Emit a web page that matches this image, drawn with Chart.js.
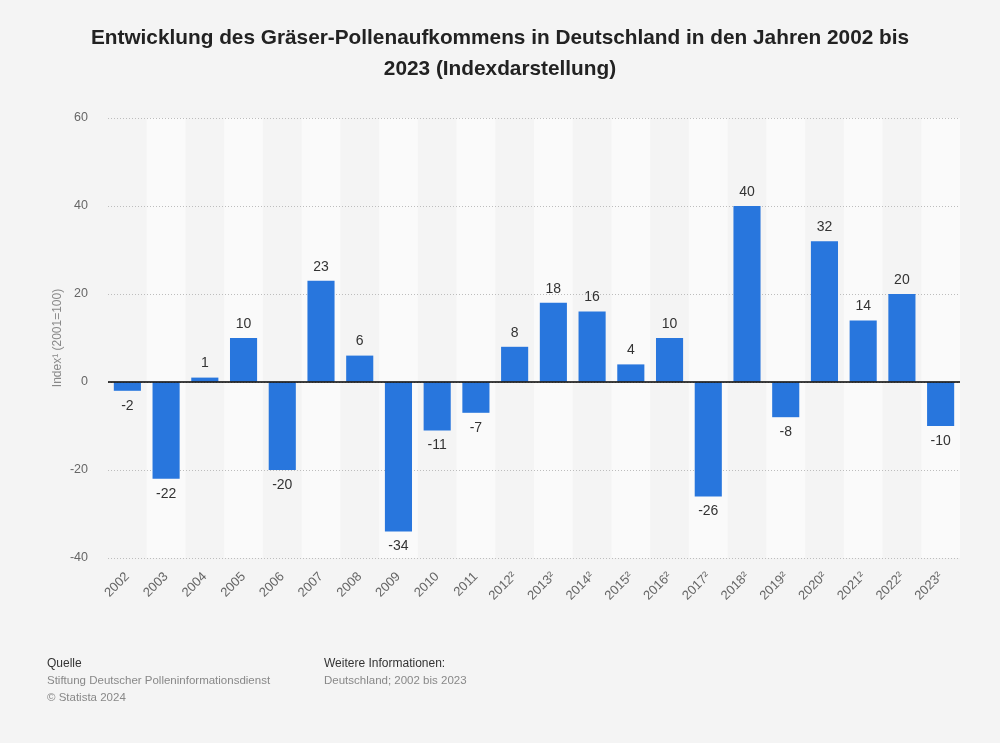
<!DOCTYPE html>
<html lang="de">
<head>
<meta charset="UTF-8">
<title>Gräser-Pollenaufkommen</title>
<script src="https://cdn.jsdelivr.net/npm/chart.js"></script>
<style>
  body { margin: 0; background: #f4f4f4; font-family: "Liberation Sans", Arial, sans-serif; }
  .wrap { position: relative; width: 1000px; height: 743px; }
  h1 { position: absolute; top: 21px; left: 0; width: 1000px; margin: 0; text-align: center;
       font-size: 20.8px; line-height: 31px; color: #222; font-weight: bold; }
  canvas { position: absolute; left: 0; top: 0; }
  .foot { position: absolute; top: 655px; font-size: 11.5px; line-height: 17px; color: #888; }
  .foot b { font-weight: normal; color: #333; font-size: 12px; }
</style>
</head>
<body>
<div class="wrap">
  <canvas id="chart" width="1000" height="743"></canvas>
  <h1>Entwicklung des Gräser-Pollenaufkommens in Deutschland in den Jahren 2002 bis<br>2023 (Indexdarstellung)</h1>
  <div class="foot" style="left:47px"><b>Quelle</b><br>Stiftung Deutscher Polleninformationsdienst<br>© Statista 2024</div>
  <div class="foot" style="left:324px"><b>Weitere Informationen:</b><br>Deutschland; 2002 bis 2023</div>
</div>
<script>
const years = ['2002', '2003', '2004', '2005', '2006', '2007', '2008', '2009', '2010', '2011',
  '2012²', '2013²', '2014²', '2015²', '2016²', '2017²', '2018²', '2019²', '2020²', '2021²', '2022²', '2023²'];
const indexValues = [-2, -22, 1, 10, -20, 23, 6, -34, -11, -7, 8, 18, 16, 4, 10, -26, 40, -8, 32, 14, 20, -10];
const yTicks = [-40, -20, 0, 20, 40, 60];

// helles Band hinter jeder zweiten Kategorie
const bands = {
  id: 'bands',
  beforeDraw(chart) {
    const { ctx, chartArea, scales } = chart;
    const step = scales.x.getPixelForValue(1) - scales.x.getPixelForValue(0);
    ctx.save();
    ctx.fillStyle = '#fafafa';
    years.forEach((y, i) => {
      if (i % 2 === 1) {
        const cx = scales.x.getPixelForValue(i);
        ctx.fillRect(cx - step / 2, chartArea.top, step, chartArea.bottom - chartArea.top);
      }
    });
    ctx.restore();
  }
};

// Nulllinie und Werte an den Balken
const labels = {
  id: 'labels',
  afterDatasetsDraw(chart) {
    const { ctx, chartArea, scales } = chart;
    const y0 = scales.y.getPixelForValue(0);
    ctx.save();
    ctx.strokeStyle = '#000';
    ctx.lineWidth = 1.5;
    ctx.beginPath();
    ctx.moveTo(chartArea.left, y0);
    ctx.lineTo(chartArea.right, y0);
    ctx.stroke();

    ctx.fillStyle = '#333';
    ctx.font = '14px "Liberation Sans", Arial, sans-serif';
    ctx.textAlign = 'center';
    chart.getDatasetMeta(0).data.forEach((bar, i) => {
      const v = indexValues[i];
      if (v >= 0) {
        ctx.textBaseline = 'bottom';
        ctx.fillText(String(v), bar.x, bar.y - 7);
      } else {
        ctx.textBaseline = 'top';
        ctx.fillText(String(v), bar.x, bar.y + 8);
      }
    });
    ctx.restore();
  }
};

new Chart(document.getElementById('chart'), {
  type: 'bar',
  data: {
    labels: years,
    datasets: [{
      data: indexValues,
      backgroundColor: '#2876dd',
      barPercentage: 0.7,
      categoryPercentage: 1.0
    }]
  },
  options: {
    responsive: false,
    animation: false,
    layout: { padding: { top: 118, right: 40, left: 46, bottom: 0 } },
    plugins: { legend: { display: false }, tooltip: { enabled: false } },
    scales: {
      x: {
        grid: { display: false },
        border: { display: false },
        ticks: {
          color: '#666', minRotation: 45, maxRotation: 45, autoSkip: false,
          font: { family: '"Liberation Sans", Arial, sans-serif', size: 13 }
        },
        afterFit(scale) { scale.height = 185; }
      },
      y: {
        min: -40, max: 60,
        afterBuildTicks(scale) { scale.ticks = yTicks.map(v => ({ value: v })); },
        grid: { color: '#bdbdbd', drawTicks: false },
        border: { display: false, dash: [1, 2] },
        ticks: {
          color: '#666', padding: 20,
          font: { family: '"Liberation Sans", Arial, sans-serif', size: 12.5 }
        },
        title: {
          display: true, text: 'Index¹ (2001=100)', color: '#888',
          font: { family: '"Liberation Sans", Arial, sans-serif', size: 12 }
        },
        afterFit(scale) { scale.width = 62; }
      }
    }
  },
  plugins: [bands, labels]
});
</script>
</body>
</html>
